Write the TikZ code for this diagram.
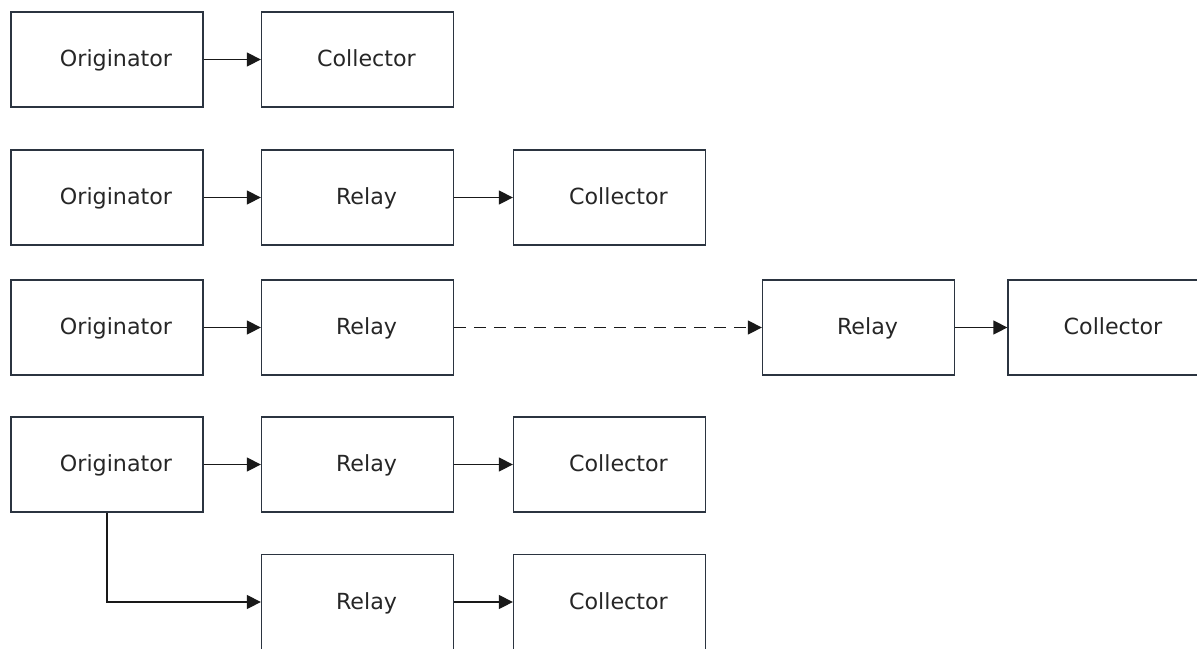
\documentclass[tikz,border=0pt]{standalone}
\usepackage{fontspec}
\setmainfont{DejaVu Sans}
\usetikzlibrary{arrows.meta}
\definecolor{boxline}{HTML}{2B3440}
\definecolor{boxtext}{HTML}{262626}
\newcommand{\lbl}[1]{\hspace*{9pt}#1}
\tikzset{
  box/.style={draw=boxline, line width=0.65pt, minimum width=96pt, minimum height=47.5pt,
    inner sep=0pt, text=boxtext, text height=8pt, text depth=0.8pt,
    font=\fontsize{11.1}{13}\selectfont},
  link/.style={draw=black!90, line width=0.7pt, -{Triangle[length=7pt,width=7pt]}},
  far/.style={link, dash pattern=on 6pt off 4pt}
}
\begin{document}
\begin{tikzpicture}[x=0.5pt,y=-0.5pt]
  \useasboundingbox (0,0) rectangle (1197,648);
  \clip (0,0) rectangle (1197,648);

  % direct
  \node[box] (orig1) at (107,59.5) {\lbl{Originator}};
  \node[box] (coll1) at (357.5,59.5) {\lbl{Collector}};

  % one relay
  \node[box] (orig2) at (107,197.5) {\lbl{Originator}};
  \node[box] (rel2) at (357.5,197.5) {\lbl{Relay}};
  \node[box] (coll2) at (609.5,197.5) {\lbl{Collector}};

  % chain of relays
  \node[box] (orig3) at (107,327.5) {\lbl{Originator}};
  \node[box] (rel3) at (357.5,327.5) {\lbl{Relay}};
  \node[box] (rel3b) at (858.5,327.5) {\lbl{Relay}};
  \node[box] (coll3) at (1104,327.5) {\lbl{Collector}};

  % fan out
  \node[box] (orig4) at (107,464.5) {\lbl{Originator}};
  \node[box] (rel4) at (357.5,464.5) {\lbl{Relay}};
  \node[box] (coll4) at (609.5,464.5) {\lbl{Collector}};
  \node[box] (rel5) at (357.5,602) {\lbl{Relay}};
  \node[box] (coll5) at (609.5,602) {\lbl{Collector}};

  \draw[link] (orig1) -- (coll1);

  \draw[link] (orig2) -- (rel2);
  \draw[link] (rel2) -- (coll2);

  \draw[link] (orig3) -- (rel3);
  \draw[far] (rel3) -- (rel3b);
  \draw[link] (rel3b) -- (coll3);

  \draw[link] (orig4) -- (rel4);
  \draw[link] (rel4) -- (coll4);
  \draw[link] (orig4.south) |- (rel5.west);
  \draw[link] (rel5) -- (coll5);
\end{tikzpicture}
\end{document}
